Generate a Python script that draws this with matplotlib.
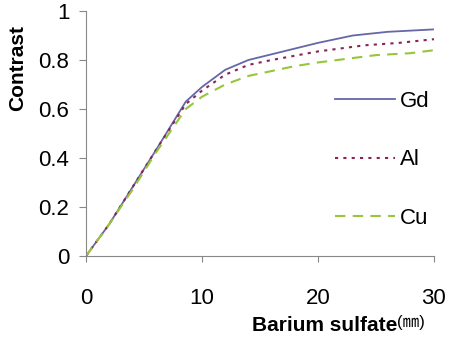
import matplotlib
matplotlib.use("Agg")
import matplotlib.pyplot as plt
from matplotlib import font_manager

names = {f.name for f in font_manager.fontManager.ttflist}
base = 'Liberation Sans Narrow' if 'Liberation Sans Narrow' in names else 'Liberation Sans'
plt.rcParams['font.family'] = [base, 'Noto Sans CJK JP', 'DejaVu Sans']

# data
gd_x = [0, 2, 4, 6, 8.6, 10, 12, 14, 17, 20, 23, 26, 30]
gd_y = [0, 0.13, 0.28, 0.43, 0.63, 0.69, 0.76, 0.80, 0.835, 0.87, 0.90, 0.915, 0.925]
al_x = [0, 2, 4, 6, 8.6, 10, 12, 14, 16, 20, 24, 27, 30]
al_y = [0, 0.13, 0.28, 0.43, 0.62, 0.675, 0.74, 0.78, 0.80, 0.835, 0.86, 0.87, 0.885]
cu_x = [0, 2, 4, 6, 8.6, 10, 12, 14, 16, 18, 20, 25, 28, 30]
cu_y = [0, 0.13, 0.27, 0.42, 0.60, 0.65, 0.70, 0.735, 0.755, 0.775, 0.79, 0.82, 0.828, 0.84]

fig = plt.figure(figsize=(4.49, 3.4), dpi=100)
ax = fig.add_axes([0.1915, 0.247, 0.775, 0.7206])

ax.plot(gd_x, gd_y, color='#6567A8', lw=1.3, label='Gd')
ax.plot(al_x, al_y, color='#8A2456', lw=1.5, ls=(0, (1.5, 2.5)), label='Al')
ax.plot(cu_x, cu_y, color='#98C53A', lw=1.5, ls=(0, (5, 3.5)), label='Cu')

ax.set_xlim(0, 30)
ax.set_ylim(0, 1)
ax.set_xticks([0, 10, 20, 30])
ax.set_yticks([0, 0.2, 0.4, 0.6, 0.8, 1])
ax.set_yticklabels(['0', '0.2', '0.4', '0.6', '0.8', '1'])
for s in ['top', 'right']:
    ax.spines[s].set_visible(False)
for s in ['left', 'bottom']:
    ax.spines[s].set_color('#888888')
ax.tick_params(axis='x', direction='out', length=4, color='#888888', pad=19, labelsize=16)
ax.tick_params(axis='y', direction='out', length=5, color='#888888', pad=7, labelsize=16)

leg = ax.legend(loc='upper left', bbox_to_anchor=(0.715, 0.675), frameon=False,
                fontsize=16, handlelength=2.7, labelspacing=1.7, handletextpad=0.25,
                borderaxespad=0, borderpad=0)

fig.text(0.885, 0.044, 'Barium sulfate', fontsize=15, fontweight='bold', ha='right', va='center')
fig.text(0.885, 0.052, '(㎜)', fontsize=12, ha='left', va='center')
fig.text(0.04, 0.80, 'Contrast', fontsize=15, fontweight='bold', rotation=90, ha='center', va='center')

fig.savefig('out.png', dpi=100)
